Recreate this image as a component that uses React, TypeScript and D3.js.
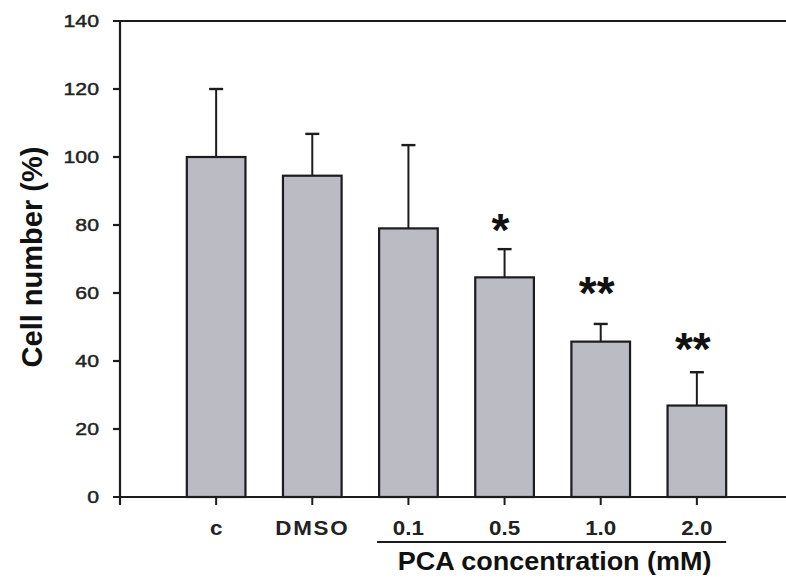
import React from "react";
import * as d3 from "d3";

const categories = ["c", "DMSO", "0.1", "0.5", "1.0", "2.0"];
const means = [100, 94.5, 79, 64.6, 45.7, 26.9];
const errors = [20, 12.3, 24.5, 8.3, 5.2, 9.8];
const stars = ["", "", "", "*", "**", "**"];
const starLevels = [0, 0, 0, 81, 62.5, 46];
const yTicks = [0, 20, 40, 60, 80, 100, 120, 140];
const pcaGroup = ["0.1", "0.5", "1.0", "2.0"];

const W = 786;
const H = 579;
const axisX = 120;
const font = "'Liberation Sans', Arial, sans-serif";

export default function App() {
  const y = d3.scaleLinear().domain([0, 140]).range([497, 21]);
  const x = d3.scalePoint<string>().domain(categories).range([axisX, 793]).padding(1);
  const barW = x.step() * 0.61;
  const capW = 14;
  const ink = "#1c1c1c";

  const gx0 = (x(pcaGroup[0]) as number) - barW / 2 - 2;
  const gx1 = (x(pcaGroup[pcaGroup.length - 1]) as number) + barW / 2;

  return (
    <svg width={W} height={H} style={{ position: "absolute", left: 0, top: 0, background: "#fff" }}>
      {/* bars */}
      {categories.map((c, i) => {
        const cx = x(c) as number;
        const top = y(means[i]);
        const errTop = y(means[i] + errors[i]);
        return (
          <g key={c}>
            <line x1={cx} x2={cx} y1={top} y2={errTop} stroke={ink} strokeWidth={2} />
            <line x1={cx - capW / 2} x2={cx + capW / 2} y1={errTop} y2={errTop} stroke={ink} strokeWidth={2.4} />
            <rect x={cx - barW / 2} y={top} width={barW} height={y(0) - top}
              fill="#babbc3" stroke={ink} strokeWidth={2.2} />
            {stars[i] && (
              <text x={cx - 4} y={y(starLevels[i]) + 24} textAnchor="middle" fontFamily={font}
                fontWeight="bold" fontSize={46} fill="#111">{stars[i]}</text>
            )}
          </g>
        );
      })}

      {/* y axis */}
      <line x1={axisX} x2={axisX} y1={y(140)} y2={y(0) + 8} stroke={ink} strokeWidth={2.2} />
      {yTicks.map((t) => (
        <g key={t}>
          <line x1={axisX - 7} x2={t === 0 || t === 140 ? W : axisX} y1={y(t)} y2={y(t)} stroke={ink} strokeWidth={2.2} />
          <text transform={`translate(99,${y(t) + 6}) scale(1.25,1)`} textAnchor="end"
            fontFamily={font} fontSize={17} fill="#222" stroke="#222" strokeWidth={0.45}>{t}</text>
        </g>
      ))}

      {/* x ticks and labels */}
      {categories.map((c) => {
        const cx = x(c) as number;
        return (
          <g key={c}>
            <line x1={cx} x2={cx} y1={y(0)} y2={y(0) + 8} stroke={ink} strokeWidth={2} />
            <text transform={`translate(${cx},535) scale(1.12,1)`} textAnchor="middle" fontFamily={font}
              fontWeight="bold" fontSize={20} fill="#222" letterSpacing={c === "DMSO" ? 1.5 : 0}>{c}</text>
          </g>
        );
      })}

      {/* group bracket */}
      <line x1={gx0} x2={gx1} y1={542} y2={542} stroke={ink} strokeWidth={2.2} />
      <text transform={`translate(${(gx0 + gx1) / 2 + 3},570) scale(1.08,1)`} textAnchor="middle"
        fontFamily={font} fontWeight="bold" fontSize={25} fill="#111">PCA concentration (mM)</text>

      {/* y label */}
      <text transform={`translate(42,257) rotate(-90)`} textAnchor="middle" fontFamily={font}
        fontWeight="bold" fontSize={29} fill="#111">Cell number (%)</text>
    </svg>
  );
}
